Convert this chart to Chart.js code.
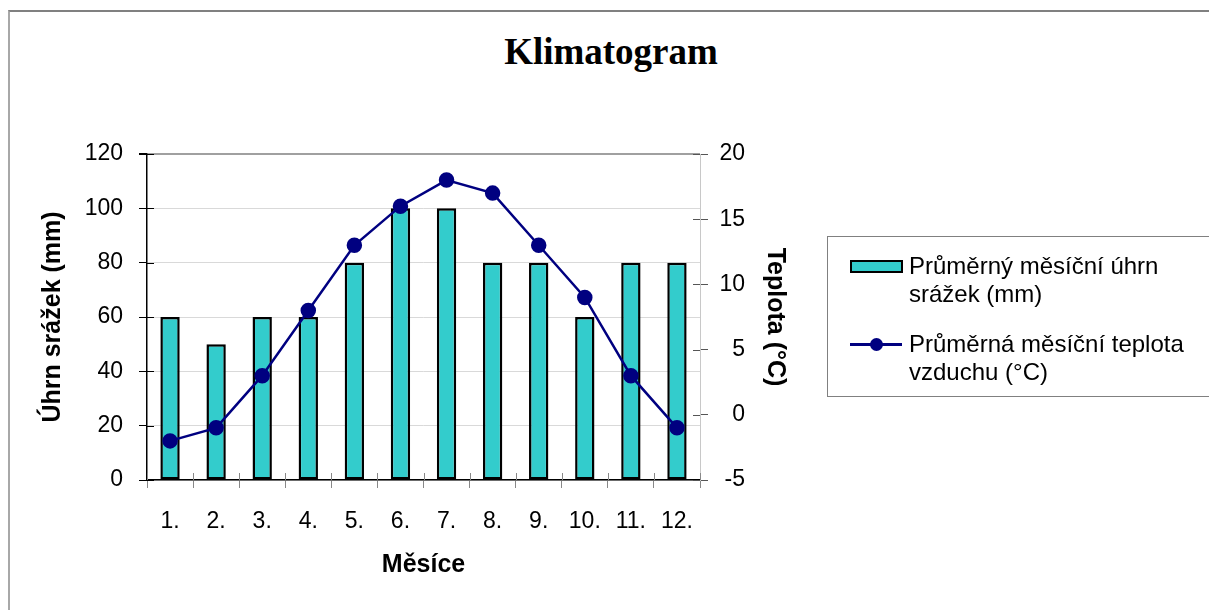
<!DOCTYPE html>
<html>
<head>
<meta charset="utf-8">
<script src="https://cdn.jsdelivr.net/npm/chart.js@4/dist/chart.umd.min.js"></script>
<style>
  body { margin: 0; background: #fff; font-family: "Liberation Sans", Arial, sans-serif; }
  #wrap { position: relative; width: 1209px; height: 610px; overflow: hidden; }
  #frame { position: absolute; left: 8px; top: 10px; width: 1300px; height: 700px;
           border-top: 2px solid #808080; border-left: 2px solid #a8a8a8; }
  #title { position: absolute; left: 0; top: 30px; width: 1222px; text-align: center;
           font: bold 37px "Liberation Serif", "Times New Roman", serif; line-height: 44px; }
  #legend { position: absolute; left: 827px; top: 236px; width: 420px; height: 159px;
            border: 1px solid #808080; font-size: 24px; line-height: 28px; color: #000; }
  .item { position: absolute; left: 22px; }
  .txt { position: absolute; left: 59px; top: 0; white-space: nowrap; }
  .barbox { position: absolute; left: 0; width: 49px; height: 9px; background: #33cccc; border: 2px solid #000; }
  .ln { position: absolute; left: 0; width: 52px; height: 3px; background: #000080; }
  .dot { position: absolute; left: 20px; width: 13px; height: 13px; border-radius: 50%; background: #000080; }
  canvas { position: absolute; left: 0; top: 0; }
</style>
</head>
<body>
<div id="wrap">
  <div id="frame"></div>
  <div id="title">Klimatogram</div>
  <canvas id="klima" width="1209" height="610"></canvas>
  <div id="legend"></div>
</div>
<script>
// data
const mesice = ["1.", "2.", "3.", "4.", "5.", "6.", "7.", "8.", "9.", "10.", "11.", "12."];
const srazky = [60, 50, 60, 60, 80, 100, 100, 80, 80, 60, 80, 80];
const teplota = [-2, -1, 3, 8, 13, 16, 18, 17, 13, 9, 3, -1];
const srazkyLabel = ["Průměrný měsíční úhrn", "srážek (mm)"];
const teplotaLabel = ["Průměrná měsíční teplota", "vzduchu (°C)"];

const font = "'Liberation Sans', Arial, sans-serif";

// tick marks that cross the axis (Chart.js only draws the outer half)
const innerTicks = {
  id: "innerTicks",
  afterDraw(chart) {
    const ctx = chart.ctx;
    const yl = chart.scales.y, yr = chart.scales.y2, x = chart.scales.x;
    ctx.save();
    ctx.lineWidth = 1;
    ctx.strokeStyle = "#000";
    yl.ticks.forEach((t, i) => {
      const p = Math.round(yl.getPixelForTick(i)) + 0.5;
      ctx.beginPath(); ctx.moveTo(yl.right, p); ctx.lineTo(yl.right + 7, p); ctx.stroke();
    });
    ctx.strokeStyle = "#555";
    yr.ticks.forEach((t, i) => {
      const p = Math.round(yr.getPixelForTick(i)) + 0.5;
      ctx.beginPath(); ctx.moveTo(yr.left - 7, p); ctx.lineTo(yr.left, p); ctx.stroke();
    });
    ctx.strokeStyle = "#888";
    const w = x.width / mesice.length;
    for (let i = 0; i <= mesice.length; i++) {
      const p = Math.round(x.left + i * w) + 0.5;
      ctx.beginPath(); ctx.moveTo(p, x.top); ctx.lineTo(p, x.top - 7); ctx.stroke();
    }
    ctx.restore();
  }
};

new Chart(document.getElementById("klima"), {
  data: {
    labels: mesice,
    datasets: [
      {
        type: "line",
        label: teplotaLabel.join(" "),
        data: teplota,
        yAxisID: "y2",
        borderColor: "#000080",
        backgroundColor: "#000080",
        borderWidth: 2.5,
        pointRadius: 6.5,
        pointBackgroundColor: "#000080",
        tension: 0,
        order: 0
      },
      {
        type: "bar",
        label: srazkyLabel.join(" "),
        data: srazky,
        yAxisID: "y",
        backgroundColor: "#33cccc",
        borderColor: "#000",
        borderWidth: 2.5,
        borderSkipped: false,
        barPercentage: 0.42,
        categoryPercentage: 1,
        order: 1
      }
    ]
  },
  options: {
    responsive: false,
    animation: false,
    layout: { padding: { left: 30, right: 409, top: 154, bottom: 30 } },
    plugins: { legend: { display: false }, tooltip: { enabled: false } },
    scales: {
      x: {
        offset: true,
        grid: { offset: true, drawOnChartArea: false, color: "#888", tickLength: 8 },
        border: { color: "#000", width: 1.5 },
        ticks: { color: "#000", font: { family: font, size: 23 }, padding: 20 },
        title: { display: true, text: "Měsíce", color: "#000", font: { family: font, size: 25, weight: "bold" }, padding: 0 },
        afterFit(s) { s.height = 100; }
      },
      y: {
        position: "left",
        min: 0, max: 120,
        ticks: { stepSize: 20, color: "#000", font: { family: font, size: 23 }, padding: 16 },
        grid: { color: (c) => c.tick.value === 120 ? "#a0a0a0" : "#d9d9d9", lineWidth: (c) => c.tick.value === 120 ? 2 : 1, tickColor: "#000", tickLength: 8 },
        border: { color: "#000", width: 1.5 },
        title: { display: true, text: "Úhrn srážek (mm)", color: "#000", font: { family: font, size: 25, weight: "bold" }, padding: 8 },
        afterFit(s) { s.width = 117; }
      },
      y2: {
        position: "right",
        min: -5, max: 20,
        ticks: { stepSize: 5, color: "#000", font: { family: font, size: 23 }, padding: 12, crossAlign: "far" },
        grid: { drawOnChartArea: false, color: "#555", tickLength: 8 },
        border: { color: "#c8c8c8", width: 1 },
        afterFit(s) { s.width = 45; }
      },
      // carries only the right axis title, placed outside the tick labels
      y3: {
        position: "right",
        min: -5, max: 20,
        ticks: { display: false },
        grid: { display: false },
        border: { display: false },
        title: { display: true, text: "Teplota (°C)", color: "#000", font: { family: font, size: 25, weight: "bold" }, padding: 10 },
        afterFit(s) { s.width = 55; }
      }
    }
  },
  plugins: [innerTicks]
});

// legend box with wrapped labels, as in the original
const legend = document.getElementById("legend");
legend.innerHTML =
  '<div class="item" style="top:15px"><div class="barbox" style="top:8px"></div>' +
  '<div class="txt">' + srazkyLabel.join("<br>") + '</div></div>' +
  '<div class="item" style="top:93px"><div class="ln" style="top:13px"></div><div class="dot" style="top:8px"></div>' +
  '<div class="txt">' + teplotaLabel.join("<br>") + '</div></div>';
</script>
</body>
</html>
